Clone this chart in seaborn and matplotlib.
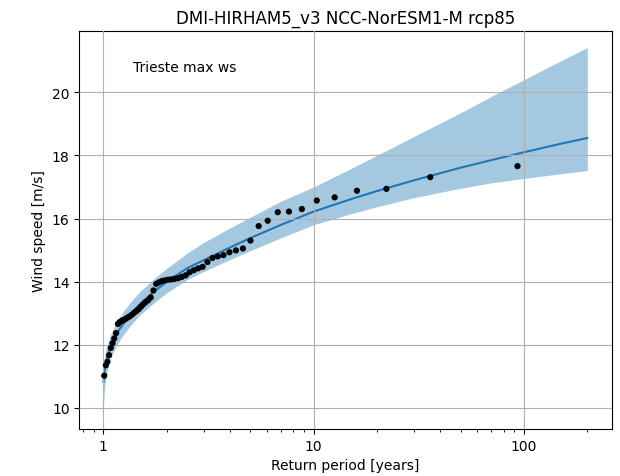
import matplotlib
matplotlib.use("Agg")
import matplotlib.pyplot as plt
from matplotlib.ticker import ScalarFormatter
import seaborn as sns
import pandas as pd

# Observed annual maxima (plotting positions, years) and wind speed [m/s]
obs_period = [93.2, 35.846, 22.19, 16.069, 12.595, 10.356, 8.792, 7.639, 6.754, 6.052,
              5.482, 5.011, 4.614, 4.275, 3.983, 3.728, 3.504, 3.305, 3.128, 2.968,
              2.824, 2.694, 2.575, 2.466, 2.365, 2.273, 2.188, 2.109, 2.035, 1.966,
              1.902, 1.842, 1.785, 1.732, 1.682, 1.635, 1.590, 1.548, 1.508, 1.470,
              1.434, 1.399, 1.367, 1.335, 1.305, 1.277, 1.249, 1.223, 1.198, 1.174,
              1.151, 1.128, 1.107, 1.086, 1.066, 1.047, 1.029, 1.011]
obs_speed = [17.66, 17.31, 16.94, 16.88, 16.67, 16.57, 16.30, 16.22, 16.20, 15.93,
             15.76, 15.30, 15.05, 14.99, 14.93, 14.84, 14.80, 14.75, 14.62, 14.47,
             14.42, 14.36, 14.30, 14.20, 14.15, 14.11, 14.09, 14.07, 14.06, 14.04,
             14.02, 13.98, 13.93, 13.72, 13.50, 13.41, 13.35, 13.28, 13.20, 13.12,
             13.06, 13.01, 12.95, 12.90, 12.86, 12.82, 12.78, 12.76, 12.72, 12.66,
             12.37, 12.20, 12.05, 11.90, 11.67, 11.46, 11.35, 11.02]

# Fitted return level curve and confidence band
fit_period = [1.003, 1.01, 1.02, 1.03, 1.05, 1.075, 1.1, 1.15, 1.2, 1.3, 1.4, 1.5,
              1.75, 2, 2.5, 3, 4, 5, 7, 10, 15, 20, 30, 50, 70, 100, 150, 200]
fit_level = [10.84, 11.08, 11.28, 11.43, 11.65, 11.86, 12.03, 12.30, 12.51, 12.83, 13.09, 13.30,
             13.69, 13.99, 14.42, 14.68, 15.08, 15.38, 15.80, 16.22, 16.61, 16.87, 17.21, 17.61,
             17.85, 18.10, 18.37, 18.55]
fit_lower = [10.06, 10.45, 10.75, 10.95, 11.25, 11.50, 11.68, 11.95, 12.16, 12.48, 12.74, 12.95,
             13.34, 13.64, 14.06, 14.32, 14.70, 14.98, 15.39, 15.80, 16.15, 16.37, 16.66, 16.96,
             17.13, 17.27, 17.42, 17.52]
fit_upper = [11.24, 11.50, 11.70, 11.85, 12.05, 12.25, 12.42, 12.68, 12.90, 13.22, 13.48, 13.70,
             14.10, 14.42, 14.90, 15.24, 15.70, 16.04, 16.55, 17.00, 17.58, 18.00, 18.60, 19.35,
             19.87, 20.40, 21.00, 21.42]

title = "DMI-HIRHAM5_v3 NCC-NorESM1-M rcp85"
label = "Trieste max ws"
x_ticks = [1, 10, 100]
y_ticks = [10, 12, 14, 16, 18, 20]

obs = pd.DataFrame({"period": obs_period, "speed": obs_speed})
fit = pd.DataFrame({"period": fit_period, "level": fit_level,
                    "lower": fit_lower, "upper": fit_upper})

fig = plt.figure(figsize=(6.2, 4.77), dpi=100)
ax = fig.add_axes([0.128, 0.0985, 0.859, 0.835])

ax.fill_between(fit["period"], fit["lower"], fit["upper"], color="#1f77b4",
                alpha=0.4, linewidth=0, zorder=1)
sns.lineplot(data=fit, x="period", y="level", color="#1f77b4", linewidth=1.5,
             ax=ax, legend=False, zorder=2)
sns.scatterplot(data=obs, x="period", y="speed", color="black", s=20,
                edgecolor="none", ax=ax, legend=False, zorder=3)

ax.set_xscale("log")
ax.set_xlim(0.77, 262)
ax.set_ylim(9.33, 21.95)
ax.set_xticks(x_ticks)
ax.xaxis.set_major_formatter(ScalarFormatter())
ax.set_yticks(y_ticks)
ax.grid(True, which="major", color="#b0b0b0", linewidth=0.8)
ax.set_axisbelow(False)

ax.set_title(title, fontsize=12)
ax.set_xlabel("Return period [years]", fontsize=10)
ax.set_ylabel("Wind speed [m/s]", fontsize=10)
ax.text(0.1, 0.9, label, transform=ax.transAxes, fontsize=10)

for s in ax.spines.values():
    s.set_color("black")
    s.set_linewidth(0.8)

fig.savefig("out.png", dpi=100)
